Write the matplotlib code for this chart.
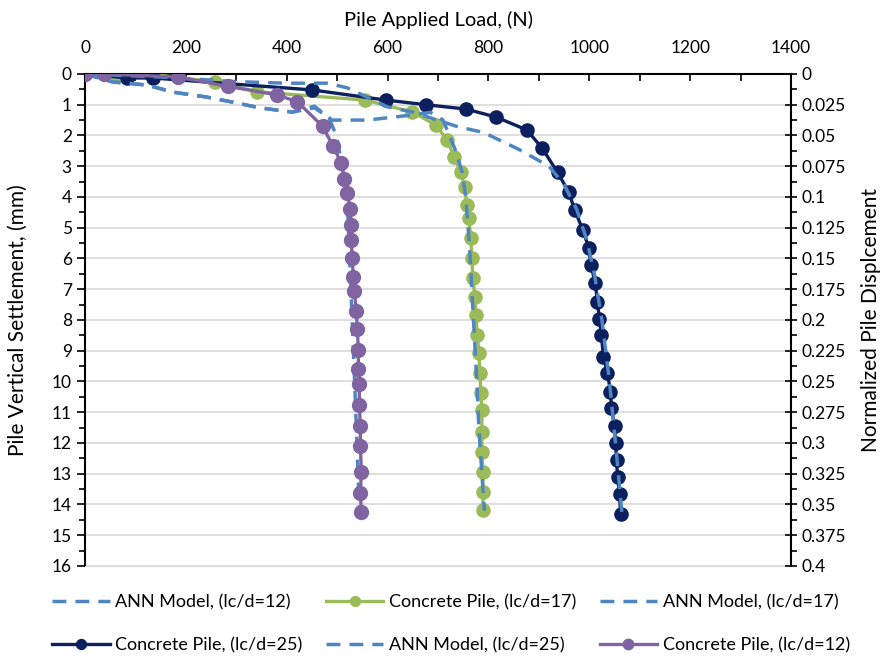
import matplotlib.pyplot as plt
from matplotlib.ticker import MultipleLocator, FixedLocator

plt.rcParams['font.family'] = ['Lato', 'DejaVu Sans']

# Concrete pile curves (load N, settlement mm)
c12_load = [0, 38, 184, 283, 380, 421, 471, 492, 508, 514, 520, 526, 528, 528, 530,
            532, 534, 538, 540, 542, 542, 544, 544, 546, 546, 548, 546, 548]
c12_settle = [0, 0, 0.1, 0.4, 0.68, 0.9, 1.7, 2.35, 2.9, 3.4, 3.87, 4.4, 4.9, 5.4, 6.0,
              6.6, 7.05, 7.7, 8.3, 8.98, 9.59, 10.08, 10.76, 11.45, 12.1, 12.94, 13.63, 14.24]

c17_load = [0, 59, 129, 257, 342, 556, 649, 696, 718, 732, 745, 753, 757, 761, 765,
            767, 769, 773, 775, 778, 781, 783, 785, 787, 787, 787, 789, 789, 789]
c17_settle = [0, 0.03, 0, 0.26, 0.58, 0.85, 1.24, 1.66, 2.15, 2.7, 3.19, 3.67, 4.26, 4.68, 5.33,
              5.98, 6.63, 7.25, 7.84, 8.49, 9.07, 9.72, 10.37, 10.93, 11.64, 12.29, 12.94, 13.59, 14.18]

c25_load = [0, 83, 134, 451, 597, 676, 755, 815, 876, 906, 937, 959, 971, 987, 999,
            1003, 1012, 1016, 1020, 1024, 1028, 1036, 1042, 1044, 1050, 1052, 1054, 1056, 1060, 1062]
c25_settle = [0, 0.13, 0.13, 0.52, 0.85, 1.0, 1.14, 1.4, 1.82, 2.4, 3.2, 3.83, 4.42, 5.07, 5.66,
              6.21, 6.8, 7.41, 7.97, 8.49, 9.2, 9.72, 10.34, 10.86, 11.45, 12.0, 12.55, 13.1, 13.66, 14.31]

# ANN model curves
a12_load = [0, 55, 123, 174, 241, 300, 346, 411, 455, 484, 498, 508, 520, 528, 536, 544]
a12_settle = [0, 0.26, 0.36, 0.59, 0.75, 0.94, 1.1, 1.24, 1.1, 1.43, 2.0, 2.8, 4.1, 7.3, 10.6, 14.2]

a17_load = [0, 55, 123, 174, 241, 300, 346, 411, 455, 490, 560, 640, 685, 710, 735, 748,
            755, 762, 767, 772, 777, 781, 785, 789, 792]
a17_settle = [0, 0.26, 0.36, 0.59, 0.75, 0.94, 1.1, 1.24, 1.05, 1.5, 1.5, 1.35, 1.25, 1.5, 2.5, 3.2,
              4.0, 5.5, 7.0, 8.5, 10.0, 11.5, 12.5, 13.5, 14.2]

a25_load = [0, 150, 300, 400, 480, 520, 600, 650, 740, 790, 860, 920, 950, 975, 995, 1010,
            1025, 1040, 1052, 1062, 1066]
a25_settle = [0, 0.1, 0.25, 0.3, 0.3, 0.45, 1.07, 1.24, 1.72, 1.9, 2.45, 3.0, 3.6, 4.4, 5.4, 6.5,
              8.0, 10.0, 12.0, 13.8, 14.5]

right_ticks = [0, 0.025, 0.05, 0.075, 0.1, 0.125, 0.15, 0.175, 0.2, 0.225, 0.25,
               0.275, 0.3, 0.325, 0.35, 0.375, 0.4]
right_labels = ['0', '0.025', '0.05', '0.075', '0.1', '0.125', '0.15', '0.175', '0.2',
                '0.225', '0.25', '0.275', '0.3', '0.325', '0.35', '0.375', '0.4']

purple = '#8064a2'
green = '#9bbb59'
navy = '#0c1f5e'
ann = '#4f86c2'

fig = plt.figure(figsize=(8.84, 6.64), dpi=100)
ax = fig.add_axes([0.0962, 0.1476, 0.7986, 0.741])

dash = (0, (4, 2.6))
h_a12, = ax.plot(a12_load, a12_settle, color=ann, lw=2.5, linestyle=dash, zorder=4,
                 label='ANN Model, (lc/d=12)')
h_c17, = ax.plot(c17_load, c17_settle, color=green, lw=2.4, marker='o', ms=9.5, zorder=3,
                 label='Concrete Pile, (lc/d=17)')
h_a17, = ax.plot(a17_load, a17_settle, color=ann, lw=2.5, linestyle=dash, zorder=4,
                 label='ANN Model, (lc/d=17)')
h_c25, = ax.plot(c25_load, c25_settle, color=navy, lw=2.4, marker='o', ms=9.5, zorder=3,
                 label='Concrete Pile, (lc/d=25)')
h_a25, = ax.plot(a25_load, a25_settle, color=ann, lw=2.5, linestyle=dash, zorder=4,
                 label='ANN Model, (lc/d=25)')
h_c12, = ax.plot(c12_load, c12_settle, color=purple, lw=2.4, marker='o', ms=10, zorder=5,
                 label='Concrete Pile, (lc/d=12)')

ax.set_xlim(0, 1400)
ax.set_ylim(16, 0)
ax.xaxis.tick_top()
ax.xaxis.set_label_position('top')
ax.xaxis.set_major_locator(MultipleLocator(200))
ax.xaxis.set_minor_locator(MultipleLocator(100))
ax.yaxis.set_major_locator(MultipleLocator(1))
ax.yaxis.set_minor_locator(MultipleLocator(0.5))
ax.tick_params(axis='x', which='both', direction='in', length=5, width=1.2, labelsize=12.5, pad=13)
ax.tick_params(axis='y', which='major', direction='out', length=6, width=1.2, labelsize=12.5)
ax.tick_params(axis='y', which='minor', direction='out', length=4, width=1.2)
ax.grid(axis='y', which='major', color='#d9d9d9', lw=1.2)
ax.set_axisbelow(True)
for s in ['left', 'top']:
    ax.spines[s].set_linewidth(1.5)
ax.spines['bottom'].set_color('#d9d9d9')
ax.spines['right'].set_visible(False)

ax.set_xlabel('Pile Applied Load, (N)', fontsize=14.5, labelpad=10)
ax.set_ylabel('Pile Vertical Settlement, (mm)', fontsize=15, labelpad=17)

ax2 = ax.twinx()
ax2.set_ylim(0.4, 0)
ax2.yaxis.set_major_locator(FixedLocator(right_ticks))
ax2.set_yticklabels(right_labels)
ax2.yaxis.set_minor_locator(MultipleLocator(0.0125))
ax2.tick_params(axis='y', which='major', direction='inout', length=8, width=1.2, labelsize=12.5)
ax2.tick_params(axis='y', which='minor', direction='out', length=4, width=1.2)
ax2.spines['right'].set_linewidth(1.5)
for s in ['left', 'top', 'bottom']:
    ax2.spines[s].set_visible(False)
ax2.set_ylabel('Normalized Pile Displcement', fontsize=15, labelpad=11)

handles = [h_a12, h_c25, h_c17, h_a25, h_a17, h_c12]
fig.legend(handles, [h.get_label() for h in handles], loc='upper center',
           bbox_to_anchor=(0.51, 0.13), ncol=3, frameon=False, fontsize=13,
           handlelength=3.2, handletextpad=0.3, columnspacing=1.3, labelspacing=1.5,
           markerscale=0.75)

fig.savefig('out.png', dpi=100)
